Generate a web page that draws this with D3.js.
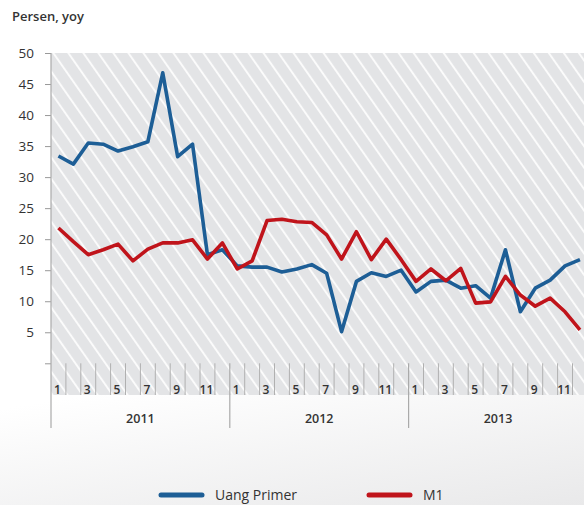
<!DOCTYPE html>
<html lang="en">
<head>
  <meta charset="UTF-8">
  <title>Uang Primer dan M1</title>
  <script src="https://d3js.org/d3.v7.min.js"></script>
  <style>
    body { margin: 0; background: #fff; }
    text { font-family: "Open Sans", "Liberation Sans", sans-serif; fill: #333; }
    .ylab { font-size: 13.5px; }
    .mlab { font-size: 12px; font-weight: 600; }
    .yr { font-size: 12.5px; font-weight: 600; }
  </style>
</head>
<body>
<script>
  const years = ["2011", "2012", "2013"];
  const monthLabels = ["1", "", "3", "", "5", "", "7", "", "9", "", "11", ""];
  const yTicks = [0, 5, 10, 15, 20, 25, 30, 35, 40, 45, 50];

  const uangPrimer = [33.4, 32.1, 35.5, 35.3, 34.2, 34.9, 35.7, 46.8, 33.3, 35.3, 17.5, 18.3,
                      15.7, 15.5, 15.5, 14.7, 15.2, 15.9, 14.5, 5.1, 13.2, 14.6, 14.0, 15.0,
                      11.5, 13.2, 13.4, 12.1, 12.5, 10.5, 18.3, 8.3, 12.1, 13.4, 15.7, 16.7];
  const m1 = [21.8, 19.6, 17.5, 18.3, 19.2, 16.5, 18.4, 19.4, 19.4, 19.9, 16.8, 19.4,
              15.2, 16.5, 23.0, 23.2, 22.8, 22.7, 20.7, 16.8, 21.2, 16.7, 20.0, 16.7,
              13.2, 15.2, 13.3, 15.3, 9.7, 9.9, 14.0, 11.0, 9.2, 10.5, 8.3, 5.4];

  const W = 584, H = 505;
  const plotLeft = 51, plotTop = 53, zeroY = 363.3, plotBottom = 395, axisBottom = 428;
  const plotRight = 51 + 14.9 * 36;

  const svg = d3.select("body").append("svg")
    .attr("width", W).attr("height", H);

  const defs = svg.append("defs");
  const grad = defs.append("linearGradient").attr("id", "bg")
    .attr("x1", "0.15").attr("y1", "0").attr("x2", "1").attr("y2", "1");
  grad.append("stop").attr("offset", "0").attr("stop-color", "#ffffff");
  grad.append("stop").attr("offset", "1").attr("stop-color", "#e9e9ea");

  const pat = defs.append("pattern").attr("id", "hatch")
    .attr("patternUnits", "userSpaceOnUse")
    .attr("width", 12.3).attr("height", 12.3)
    .attr("patternTransform", "rotate(-35)");
  pat.append("rect").attr("width", 12.3).attr("height", 12.3).attr("fill", "#e3e4e6");
  pat.append("line").attr("x1", 1).attr("x2", 1).attr("y1", 0).attr("y2", 12.3)
    .attr("stroke", "#fbfbfb").attr("stroke-width", 2);

  // lower background
  svg.append("rect").attr("x", 0).attr("y", plotBottom)
    .attr("width", W).attr("height", H - plotBottom).attr("fill", "url(#bg)");

  // hatched plot area
  svg.append("rect").attr("x", plotLeft).attr("y", plotTop)
    .attr("width", W - plotLeft).attr("height", plotBottom - plotTop)
    .attr("fill", "url(#hatch)");

  const keys = d3.range(36);
  const x = d3.scaleBand().domain(keys).range([plotLeft, plotRight]);
  const y = d3.scaleLinear().domain([0, 50]).range([zeroY, plotTop]);

  // y axis
  const yAxis = svg.append("g")
    .attr("transform", "translate(" + plotLeft + ",0)")
    .call(d3.axisLeft(y).tickValues(yTicks).tickSize(6).tickPadding(11)
      .tickFormat(d => d === 0 ? "" : d));
  yAxis.select(".domain").remove();
  yAxis.attr("font-family", null).attr("font-size", null);
  yAxis.selectAll("line").attr("stroke", "#999");
  yAxis.selectAll("text").attr("class", "ylab").attr("fill", "#333");

  svg.append("line").attr("x1", plotLeft).attr("x2", plotLeft)
    .attr("y1", plotTop).attr("y2", axisBottom)
    .attr("stroke", "#aaa").attr("stroke-width", 1.2);

  // month ticks
  svg.append("g").selectAll("line")
    .data(keys.slice(1))
    .join("line")
    .attr("x1", d => x(d)).attr("x2", d => x(d))
    .attr("y1", zeroY)
    .attr("y2", d => d % 12 === 0 ? axisBottom : plotBottom)
    .attr("stroke", d => d % 12 === 0 ? "#aaa" : "#b0b0b0")
    .attr("stroke-width", d => d % 12 === 0 ? 1.2 : 1);

  svg.append("g").selectAll("text")
    .data(keys.filter(d => monthLabels[d % 12] !== ""))
    .join("text")
    .attr("class", "mlab")
    .attr("x", d => x(d) + x.bandwidth() / 2 - 1)
    .attr("y", 394)
    .attr("text-anchor", "middle")
    .text(d => monthLabels[d % 12]);

  svg.append("g").selectAll("text")
    .data(years)
    .join("text")
    .attr("class", "yr")
    .attr("x", (d, i) => x(i * 12) + x.bandwidth() * 6)
    .attr("y", 423)
    .attr("text-anchor", "middle")
    .text(d => d);

  // lines
  const line = d3.line()
    .x((d, i) => x(i) + x.bandwidth() / 2)
    .y(d => y(d));

  const clip = defs.append("clipPath").attr("id", "clip");
  clip.append("rect").attr("x", plotLeft).attr("y", 0).attr("width", W - plotLeft).attr("height", H);

  const series = [
    { name: "Uang Primer", values: uangPrimer, color: "#1d5e96" },
    { name: "M1", values: m1, color: "#c0141b" }
  ];

  svg.append("g").attr("clip-path", "url(#clip)")
    .selectAll("path")
    .data(series)
    .join("path")
    .attr("fill", "none")
    .attr("stroke", d => d.color)
    .attr("stroke-width", 3.6)
    .attr("stroke-linejoin", "round")
    .attr("d", d => line(d.values));

  // title
  svg.append("text").attr("x", 12).attr("y", 21)
    .attr("font-size", 13).attr("font-weight", 600)
    .text("Persen, yoy");

  // legend
  const legend = svg.append("g").selectAll("g")
    .data(series)
    .join("g")
    .attr("transform", (d, i) => "translate(" + (161 + i * 208) + ",495)");
  legend.append("line")
    .attr("x1", 0).attr("x2", 41)
    .attr("stroke", d => d.color).attr("stroke-width", 5)
    .attr("stroke-linecap", "round");
  legend.append("text")
    .attr("x", 54).attr("y", 5)
    .attr("font-size", 14)
    .text(d => d.name);
</script>
</body>
</html>
